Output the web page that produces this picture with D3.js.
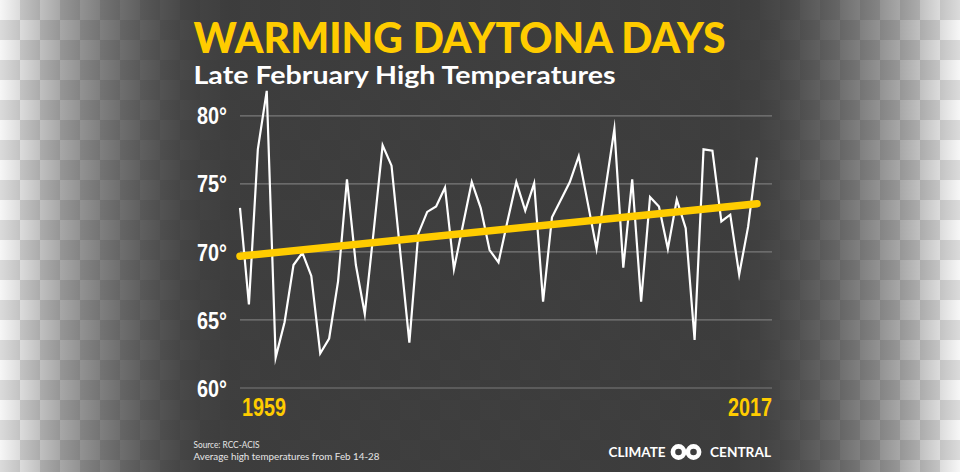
<!DOCTYPE html>
<html>
<head>
<meta charset="utf-8">
<script src="https://cdn.jsdelivr.net/npm/d3@7"></script>
<style>
  html, body { margin: 0; padding: 0; background: #3b3b3b; }
  svg { display: block; }
</style>
</head>
<body>
<svg id="chart" width="960" height="472"></svg>
<script>
// ---- data ----
const years = d3.range(1959, 2018);
const temps = [
  73.2, 66.1, 77.5, 81.8, 62.2, 64.8, 69.0, 69.9, 68.2, 62.5,
  63.6, 67.8, 75.3, 69.0, 65.4, 71.5, 77.8, 76.3, 69.8, 63.3,
  71.3, 72.9, 73.3, 74.7, 68.7, 71.9, 75.1, 73.2, 70.1, 69.2,
  72.2, 75.1, 73.0, 75.0, 66.3, 72.5, 73.8, 75.1, 77.0, 73.6,
  70.2, 74.6, 79.0, 68.8, 75.3, 66.3, 74.0, 73.3, 70.2, 73.8,
  71.7, 63.5, 77.5, 77.4, 72.2, 72.7, 68.3, 71.8, 76.9
];
const trendYears = [1959, 2017];
const trendTemps = [69.65, 73.5];
const yTicks = [60, 65, 70, 75, 80];
const yearLabels = ["1959", "2017"];
const titleText = "WARMING DAYTONA DAYS";
const subtitleText = "Late February High Temperatures";
const sourceLines = ["Source: RCC-ACIS", "Average high temperatures from Feb 14-28"];

const svg = d3.select("#chart");
const W = 960, H = 472;

// ---- background: checker + edge gradient ----
const defs = svg.append("defs");
const grad = defs.append("linearGradient").attr("id", "fade")
  .attr("x1", 0).attr("x2", W).attr("y1", 0).attr("y2", 0)
  .attr("gradientUnits", "userSpaceOnUse");
const leftStops = [[0,0.04],[20,0.17],[40,0.3],[60,0.42],[80,0.52],[100,0.61],[120,0.69],[140,0.76],[160,0.82],[180,0.87],[200,0.9],[230,0.92]];
leftStops.forEach(([x,o]) => grad.append("stop").attr("offset", x/W).attr("stop-color", "#2e2e2e").attr("stop-opacity", o));
leftStops.slice().reverse().forEach(([x,o]) => grad.append("stop").attr("offset", (W-x)/W).attr("stop-color", "#2e2e2e").attr("stop-opacity", o));

const cols = d3.range(0, W/20), rows = d3.range(0, Math.ceil(H/20));
const cells = [];
rows.forEach(r => cols.forEach(c => cells.push({r, c})));
svg.append("g").selectAll("rect").data(cells).join("rect")
  .attr("x", d => d.c*20).attr("y", d => d.r*20)
  .attr("width", 20).attr("height", 20)
  .attr("fill", d => (d.r + d.c) % 2 === 0 ? "#ffffff" : "#e2e2e2");
svg.append("rect").attr("width", W).attr("height", H).attr("fill", "url(#fade)");

// ---- scales ----
const x = d3.scaleLinear().domain([1959, 2017]).range([240, 757]);
const y = d3.scaleLinear().domain([60, 80]).range([387.5, 115.3]);

// ---- grid + y labels ----
const axis = d3.axisLeft(y).tickValues(yTicks).tickSize(532).tickFormat(d => d + "°");
const ag = svg.append("g").attr("transform", "translate(772,0)").call(axis);
ag.select(".domain").remove();
ag.selectAll(".tick line").attr("stroke", "#7a7a7a").attr("stroke-width", 1.2);
ag.selectAll(".tick text")
  .attr("x", 197 - 772).attr("dy", "0.36em")
  .attr("text-anchor", "start")
  .attr("fill", "#ffffff")
  .style("font-family", "'Liberation Sans', Arial, sans-serif")
  .style("font-weight", "bold")
  .style("font-size", "24px")
  .attr("textLength", 30).attr("lengthAdjust", "spacingAndGlyphs");

// ---- data line ----
const line = d3.line().x((d, i) => x(years[i])).y(d => y(d));
svg.append("path").datum(temps)
  .attr("d", line)
  .attr("fill", "none").attr("stroke", "#ffffff")
  .attr("stroke-width", 2.2).attr("stroke-linejoin", "miter").attr("stroke-miterlimit", 10);

// ---- trend line ----
const tline = d3.line().x((d, i) => x(trendYears[i])).y(d => y(d));
svg.append("path").datum(trendTemps)
  .attr("d", tline)
  .attr("fill", "none").attr("stroke", "#ffcc00")
  .attr("stroke-width", 7.5).attr("stroke-linecap", "round");

// ---- year labels ----
svg.append("g").selectAll("text").data(yearLabels).join("text")
  .attr("x", (d, i) => i === 0 ? 242 : 772)
  .attr("y", 415.7)
  .attr("text-anchor", (d, i) => i === 0 ? "start" : "end")
  .attr("fill", "#ffcc00")
  .style("font-family", "'Liberation Sans', Arial, sans-serif")
  .style("font-weight", "bold")
  .style("font-size", "26px")
  .attr("textLength", 44).attr("lengthAdjust", "spacingAndGlyphs")
  .text(d => d);

// ---- titles ----
svg.append("text").attr("x", 193.5).attr("y", 52.5)
  .attr("fill", "#ffcc00")
  .style("font-family", "Lato, 'Open Sans', sans-serif")
  .style("font-weight", "900").style("font-size", "42px")
  .attr("textLength", 532).attr("lengthAdjust", "spacingAndGlyphs")
  .text(titleText);
svg.append("text").attr("x", 193.5).attr("y", 84)
  .attr("fill", "#ffffff")
  .style("font-family", "Lato, 'Open Sans', sans-serif")
  .style("font-weight", "bold").style("font-size", "25.5px")
  .attr("textLength", 422).attr("lengthAdjust", "spacingAndGlyphs")
  .text(subtitleText);

// ---- footer ----
svg.append("g").selectAll("text").data(sourceLines).join("text")
  .attr("x", 193.5).attr("y", (d, i) => 447.5 + i * 12.3)
  .attr("fill", "#e6e6e6")
  .style("font-family", "Lato, 'Open Sans', sans-serif")
  .style("font-size", "10px")
  .attr("textLength", (d, i) => i === 0 ? 66 : 186).attr("lengthAdjust", "spacingAndGlyphs")
  .text(d => d);

// Climate Central logo
const logo = svg.append("g");
logo.append("text").attr("x", 608.5).attr("y", 456.8)
  .attr("fill", "#ffffff")
  .style("font-family", "Lato, 'Open Sans', sans-serif")
  .style("font-weight", "bold").style("font-size", "13px")
  .attr("textLength", 57).attr("lengthAdjust", "spacingAndGlyphs")
  .text("CLIMATE");
logo.append("text").attr("x", 710).attr("y", 456.8)
  .attr("fill", "#ffffff")
  .style("font-family", "Lato, 'Open Sans', sans-serif")
  .style("font-weight", "bold").style("font-size", "13px")
  .attr("textLength", 61).attr("lengthAdjust", "spacingAndGlyphs")
  .text("CENTRAL");
[678.5, 693.5].forEach(cx => {
  logo.append("circle").attr("cx", cx).attr("cy", 452).attr("r", 5.6)
    .attr("fill", "none").attr("stroke", "#ffffff").attr("stroke-width", 4.6);
});
</script>
</body>
</html>
